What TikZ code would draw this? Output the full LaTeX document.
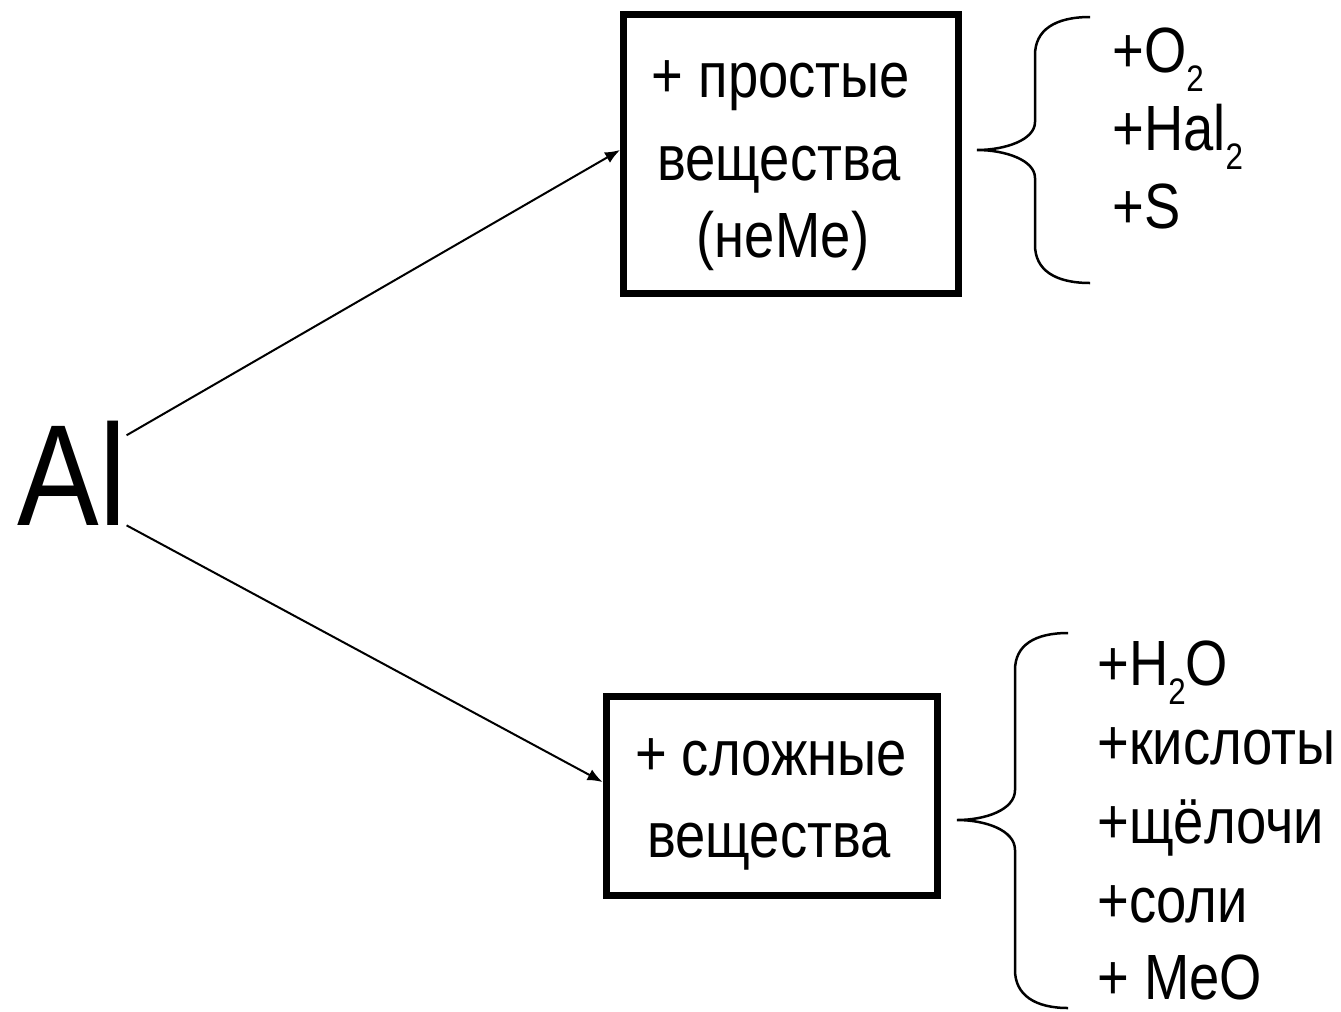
\documentclass[tikz,border=0pt]{standalone}
\usepackage{fontspec}
\setmainfont[FakeStretch=0.85]{Liberation Sans}
\usetikzlibrary{arrows.meta}
\newcommand{\chemsub}[1]{\raisebox{-0.38cm}{\fontsize{21pt}{21pt}\selectfont #1}}
\tikzset{
  reagentbox/.style={draw, line width=0.14cm, inner sep=0pt},
  boxtext/.style={anchor=base, inner sep=0pt},
  listtext/.style={anchor=base west, inner sep=0pt},
  bracepath/.style={line width=0.05cm},
}

\begin{document}
\begin{tikzpicture}[x=0.02cm, y=-0.02cm, font=\fontsize{36.4pt}{44pt}\selectfont, -{Latex[length=0.3cm,width=0.24cm]}]
	\useasboundingbox (0,0) rectangle (1341,1011);
	\node[font=\fontsize{82pt}{82pt}\selectfont, inner sep=0pt, anchor=base west] (al) at (17,525) {Al};
	\node[reagentbox, minimum width=6.7cm, minimum height=5.58cm] (simple) at (791,154) {};
	\node[boxtext] (simple1) at (781,97) {+ простые};
	\node[boxtext] (simple2) at (779,180) {вещества};
	\node[boxtext] (simple3) at (783,257) {(неМе)};
	\node[reagentbox, minimum width=6.64cm, minimum height=4cm] (complex) at (772,796) {};
	\node[boxtext] (complex1) at (771,775) {+ сложные};
	\node[boxtext] (complex2) at (769,857) {вещества};
	\draw[line width=0.04cm] ([yshift=-0.3cm]al.north east) -- ([yshift=0.08cm]simple.west);
	\draw[line width=0.04cm] (al.south east) -- ([yshift=0.28cm]complex.west);
	\draw[-, bracepath] (1090,17) .. controls (1055,17) and (1035,30) .. (1035,55) -- (1035,122)
	  .. controls (1035,140) and (1005,150) .. (977,150) .. controls (1005,150) and (1035,160) .. (1035,178)
	  -- (1035,245) .. controls (1035,270) and (1055,283) .. (1090,283);
	\draw[-, bracepath] (1068,633) .. controls (1035,633) and (1015,645) .. (1015,670) -- (1015,790)
	  .. controls (1015,810) and (985,820) .. (957,820) .. controls (985,820) and (1015,830) .. (1015,850)
	  -- (1015,970) .. controls (1015,995) and (1035,1008) .. (1068,1008);
	\node[listtext] (o2) at (1112,72) {+O\chemsub{2}};
	\node[listtext] (hal2) at (1112,150) {+Hal\chemsub{2}};
	\node[listtext] (sulfur) at (1112,228) {+S};
	\node[listtext] (h2o) at (1097,685) {+H\chemsub{2}O};
	\node[listtext] (acids) at (1097,764) {+кислоты};
	\node[listtext] (alkali) at (1097,843) {+щёлочи};
	\node[listtext] (salts) at (1097,922) {+соли};
	\node[listtext] (meo) at (1097,999) {+ MeO};
\end{tikzpicture}
\end{document}
